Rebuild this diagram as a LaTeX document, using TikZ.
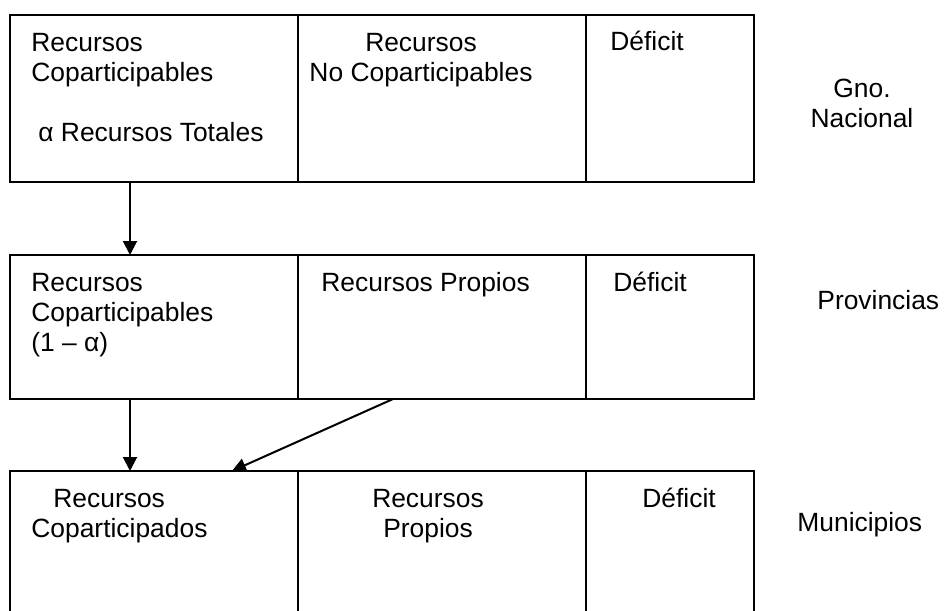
\documentclass[tikz,border=0pt]{standalone}
\usepackage{fontspec}
\setmainfont{Liberation Sans}
\usetikzlibrary{positioning}
\usetikzlibrary{arrows.meta}
\tikzset{
    cell/.style={draw,line width=1pt,rectangle,inner sep=0pt,outer sep=0pt,anchor=north west},
    txt/.style={inner sep=0pt,font=\fontsize{13.2pt}{15pt}\selectfont},
    flow/.style={line width=1pt,-{Triangle[length=7pt,width=7pt]}},
}
\begin{document}
\begin{tikzpicture}[x=0.5pt,y=-0.5pt]
\useasboundingbox (0,0) rectangle (946,610);
\clip (0,0) rectangle (946,610);
% nivel nacional
\node[cell,minimum width=144pt,minimum height=83.5pt] (nac1) at (10,15) {};
\node[cell,minimum width=144pt,minimum height=83.5pt,right=0pt of nac1] (nac2) {};
\node[cell,minimum width=84pt,minimum height=83.5pt,right=0pt of nac2] (nac3) {};
\node[txt,anchor=north west,align=left] (nacA) at (31,33) {Recursos\\Coparticipables\\[15pt]\hspace{3.5pt}α Recursos Totales};
\node[txt,anchor=north,align=center] (nacB) at (421,33) {Recursos\\No Coparticipables};
\node[txt,anchor=base west] (nacC) at (610,51) {Déficit};
\node[txt,anchor=north,align=center] (nacL) at (862,79) {Gno.\\Nacional};
% provincias
\node[cell,minimum width=144pt,minimum height=72pt] (prov1) at (10,255) {};
\node[cell,minimum width=144pt,minimum height=72pt,right=0pt of prov1] (prov2) {};
\node[cell,minimum width=84pt,minimum height=72pt,right=0pt of prov2] (prov3) {};
\node[txt,anchor=north west,align=left] (provA) at (31,273) {Recursos\\Coparticipables\\(1 – α)};
\node[txt,anchor=base west] (provB) at (321,291) {Recursos Propios};
\node[txt,anchor=base west] (provC) at (613,291) {Déficit};
\node[txt,anchor=base west] (provL) at (817,309) {Provincias};
% municipios
\node[cell,minimum width=144pt,minimum height=75pt] (mun1) at (10,471) {};
\node[cell,minimum width=144pt,minimum height=75pt,right=0pt of mun1] (mun2) {};
\node[cell,minimum width=84pt,minimum height=75pt,right=0pt of mun2] (mun3) {};
\node[txt,anchor=north west,align=left] (munA) at (31,489) {\hspace{11pt}Recursos\\Coparticipados};
\node[txt,anchor=north,align=center] (munB) at (428,489) {Recursos\\Propios};
\node[txt,anchor=base west] (munC) at (642,507) {Déficit};
\node[txt,anchor=base west] (munL) at (797,531) {Municipios};
% flechas
\draw[flow] ([xshift=60pt]nac1.south west) -- ([xshift=60pt]prov1.north west);
\draw[flow] ([xshift=60pt]prov1.south west) -- ([xshift=60pt]mun1.north west);
\draw[flow] ([xshift=47.5pt]prov2.south west) -- ([xshift=111pt]mun1.north west);
\end{tikzpicture}
\end{document}
